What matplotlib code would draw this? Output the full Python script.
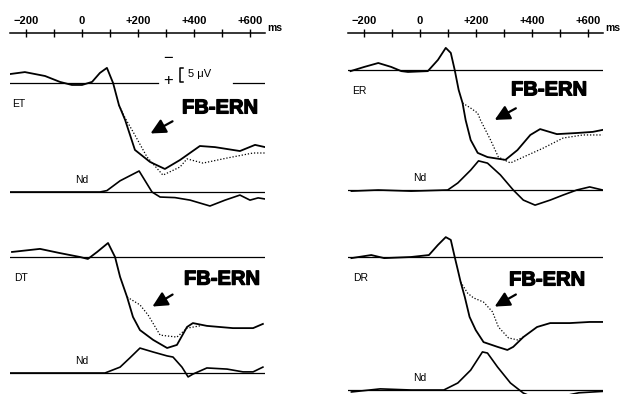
import matplotlib.pyplot as plt
import matplotlib.patheffects as pe

plt.rcParams['font.family'] = ['Liberation Sans', 'DejaVu Sans']

W, H = 622, 394
PX_MS = 0.28      # pixels per ms
PX_UV = 2.8       # pixels per microvolt
XMIN, XMAX = -258, 655

# ---- data (ms, microvolts; negative plotted up) ----
et_t = [-257, -204, -132, -79, -36, 0, 36, 64, 89, 111, 132, 154, 189, 243, 296, 350, 421, 475, 564, 618, 654]
et_solid = [-3.2, -3.9, -2.5, -0.4, 0.7, 0.7, -0.4, -3.6, -5.4, 0, 7.9, 13.2, 23.9, 28.2, 30.7, 27.5, 22.5, 22.9, 24.3, 22.1, 22.9]
et_dot_t = [132, 154, 189, 232, 289, 350, 375, 432, 518, 611, 654]
et_dot = [7.9, 12.5, 18.6, 26.4, 32.9, 30.0, 27.1, 28.6, 26.8, 25.0, 25.0]
et_nd_t = [-257, 64, 89, 136, 204, 250, 279, 332, 386, 457, 511, 564, 600, 629, 654]
et_nd = [0, 0, -0.5, -4.0, -7.5, 0, 1.8, 2.0, 2.9, 5.0, 2.9, 1.1, 2.9, 2.1, 2.5]

dt_t = [-250, -150, -79, -7, 21, 54, 93, 118, 136, 161, 182, 207, 254, 304, 339, 375, 396, 446, 539, 611, 646]
dt_solid = [-1.8, -2.9, -1.4, 0, 0.7, -1.8, -5.0, 0, 7.1, 14.3, 21.4, 26.1, 29.6, 32.5, 31.4, 25.0, 23.6, 24.6, 25.4, 25.4, 23.9]
dt_dot_t = [161, 207, 236, 279, 339, 375, 421]
dt_dot = [14.3, 17.1, 20.7, 27.9, 28.6, 25.4, 24.6]
dt_nd_t = [-255, 82, 136, 171, 207, 254, 304, 325, 357, 379, 396, 446, 518, 575, 611, 646]
dt_nd = [0, 0, -2.1, -5.4, -8.9, -7.5, -6.1, -5.7, -2.1, 1.4, 0.4, -1.8, -1.4, -0.4, -0.4, -2.1]

er_t = [-248, -199, -149, -103, -67, -43, 28, 64, 92, 110, 124, 138, 152, 163, 181, 206, 241, 305, 348, 394, 429, 489, 560, 617, 652]
er_solid = [0.4, -1.1, -2.5, -1.1, 0.4, 0.7, 0.4, -3.6, -7.9, -6.1, 0, 7.1, 11.8, 17.9, 25.0, 29.6, 31.1, 32.1, 28.6, 23.2, 21.1, 22.9, 22.5, 22.1, 21.4]
er_dot_t = [152, 181, 206, 216, 252, 280, 323, 369, 440, 511, 582, 652]
er_dot = [11.8, 13.6, 15.4, 17.9, 25.0, 31.1, 33.2, 31.1, 27.9, 24.3, 23.2, 23.2]
er_nd_t = [-245, -149, -32, 99, 135, 181, 209, 241, 287, 333, 369, 411, 465, 511, 560, 606, 652]
er_nd = [0.4, 0, 0.4, 0, -2.5, -7.1, -10.4, -9.6, -5.4, 0, 3.6, 5.4, 3.6, 1.8, 0, -1.1, 0]

dr_t = [-245, -174, -128, -32, 32, 64, 92, 110, 124, 135, 145, 160, 177, 199, 227, 277, 312, 333, 369, 418, 465, 535, 606, 652]
dr_solid = [0.4, -0.7, 0.4, 0, -0.7, -4.3, -7.1, -6.1, 0, 4.6, 8.9, 14.3, 21.4, 26.1, 30.4, 32.1, 33.2, 32.1, 28.6, 25.0, 23.6, 23.6, 23.2, 23.2]
dr_dot_t = [145, 170, 191, 227, 259, 280, 316, 348, 369]
dr_dot = [8.9, 12.9, 14.6, 16.1, 19.6, 25.0, 28.9, 29.6, 28.6]
dr_nd_t = [-245, -142, -32, 85, 135, 181, 223, 241, 277, 323, 369, 426, 496, 567, 652]
dr_nd = [0.7, -0.4, 0, 0, -2.5, -7.1, -13.6, -13.2, -8.2, -2.5, 1.1, 3.5, 2.5, 1.0, 0.5]

tick_ms = [-200, -100, 0, 100, 200, 300, 400, 500, 600]
tick_lbl = ['\u2212200', '', '0', '', '+200', '', '+400', '', '+600']

fig = plt.figure(figsize=(W / 100, H / 100), dpi=100)


def px_axes(zero_px, base_px, above, below):
    x0 = zero_px + XMIN * PX_MS
    x1 = zero_px + XMAX * PX_MS
    top, bot = base_px - above, base_px + below
    ax = fig.add_axes([x0 / W, 1 - bot / H, (x1 - x0) / W, (bot - top) / H])
    ax.set_xlim(XMIN, XMAX)
    ax.set_ylim(below / PX_UV, -above / PX_UV)
    ax.axis('off')
    ax.patch.set_alpha(0)
    return ax


def time_axis(zero_px):
    x0 = zero_px + XMIN * PX_MS
    x1 = zero_px + XMAX * PX_MS
    ax = fig.add_axes([x0 / W, 1 - 45 / H, (x1 - x0) / W, 12 / H])
    ax.set_xlim(XMIN, XMAX)
    for s in ['bottom', 'left', 'right']:
        ax.spines[s].set_visible(False)
    ax.spines['top'].set_linewidth(1.1)
    ax.set_yticks([])
    ax.xaxis.tick_top()
    ax.set_xticks(tick_ms)
    ax.set_xticklabels(tick_lbl, fontsize=8, fontweight='bold')
    ax.tick_params(axis='x', direction='inout', length=6, width=1, pad=2)
    # "ms" unit next to the last label
    ax.text(662, 1.0, 'ms', transform=ax.get_xaxis_transform(), fontsize=7.5,
            fontweight='bold', va='bottom', ha='left')
    ax.patch.set_alpha(0)


def erp_panel(zero_px, base_px, nd_px, t, solid, dt, dot, ndt, nd, name, ern_xy, arr):
    ax = px_axes(zero_px, base_px, 45, 110)
    ax.plot(t, solid, color='black', lw=1.3)
    ax.plot(dt, dot, color='black', lw=0.9, ls=(0, (1, 1.5)))
    ax.text(t[0] + 6, 7.5, name, fontsize=7.5, va='center', ha='left')
    ax.text(ern_xy[0], ern_xy[1], 'FB-ERN', fontsize=14.5, fontweight='bold', ha='center', va='center',
            path_effects=[pe.withStroke(linewidth=0.9, foreground='black')])
    ax.annotate('', xy=arr[1], xytext=arr[0],
                arrowprops=dict(arrowstyle='-|>,head_length=0.9,head_width=0.45', lw=1.6, color='black'))
    axn = px_axes(zero_px, nd_px, 40, 25)
    axn.plot([XMIN + 2, XMAX - 2], [0, 0], color='black', lw=0.9)
    axn.plot(ndt, nd, color='black', lw=1.2)
    axn.text(0, -4.4, 'Nd', fontsize=7.5, ha='center', va='center')
    return ax


time_axis(82)
time_axis(420)

ax = erp_panel(82, 83, 192, et_t, et_solid, et_dot_t, et_dot, et_nd_t, et_nd, 'ET',
               (493, 8.9), ((332, 13.2), (236, 18.5)))
ax.plot([XMIN + 2, 271], [0, 0], color='black', lw=0.9)
ax.plot([539, XMAX - 2], [0, 0], color='black', lw=0.9)
# scale bar
ax.plot([362, 350, 350, 362], [-5.2, -5.2, -0.2, -0.2], color='black', lw=1.1)
ax.text(307, -8.6, '\u2212', fontsize=12, ha='center', va='center')
ax.text(307, -0.9, '+', fontsize=12, ha='center', va='center')
ax.text(378, -3.3, '5 \u03bcV', fontsize=8, ha='left', va='center')

ax = erp_panel(82, 257, 373, dt_t, dt_solid, dt_dot_t, dt_dot, dt_nd_t, dt_nd, 'DT',
               (500, 7.9), ((332, 12.9), (243, 18.2)))
ax.plot([XMIN + 2, XMAX - 2], [0, 0], color='black', lw=0.9)

ax = erp_panel(420, 70, 190, er_t, er_solid, er_dot_t, er_dot, er_nd_t, er_nd, 'ER',
               (461, 7.1), ((351, 13.2), (258, 18.3)))
ax.plot([XMIN + 2, XMAX - 2], [0, 0], color='black', lw=0.9)

ax = erp_panel(420, 257, 390, dr_t, dr_solid, dr_dot_t, dr_dot, dr_nd_t, dr_nd, 'DR',
               (454, 8.2), ((351, 12.9), (258, 18.2)))
ax.plot([XMIN + 2, XMAX - 2], [0, 0], color='black', lw=0.9)

fig.savefig('out.png', dpi=100, facecolor='white')
